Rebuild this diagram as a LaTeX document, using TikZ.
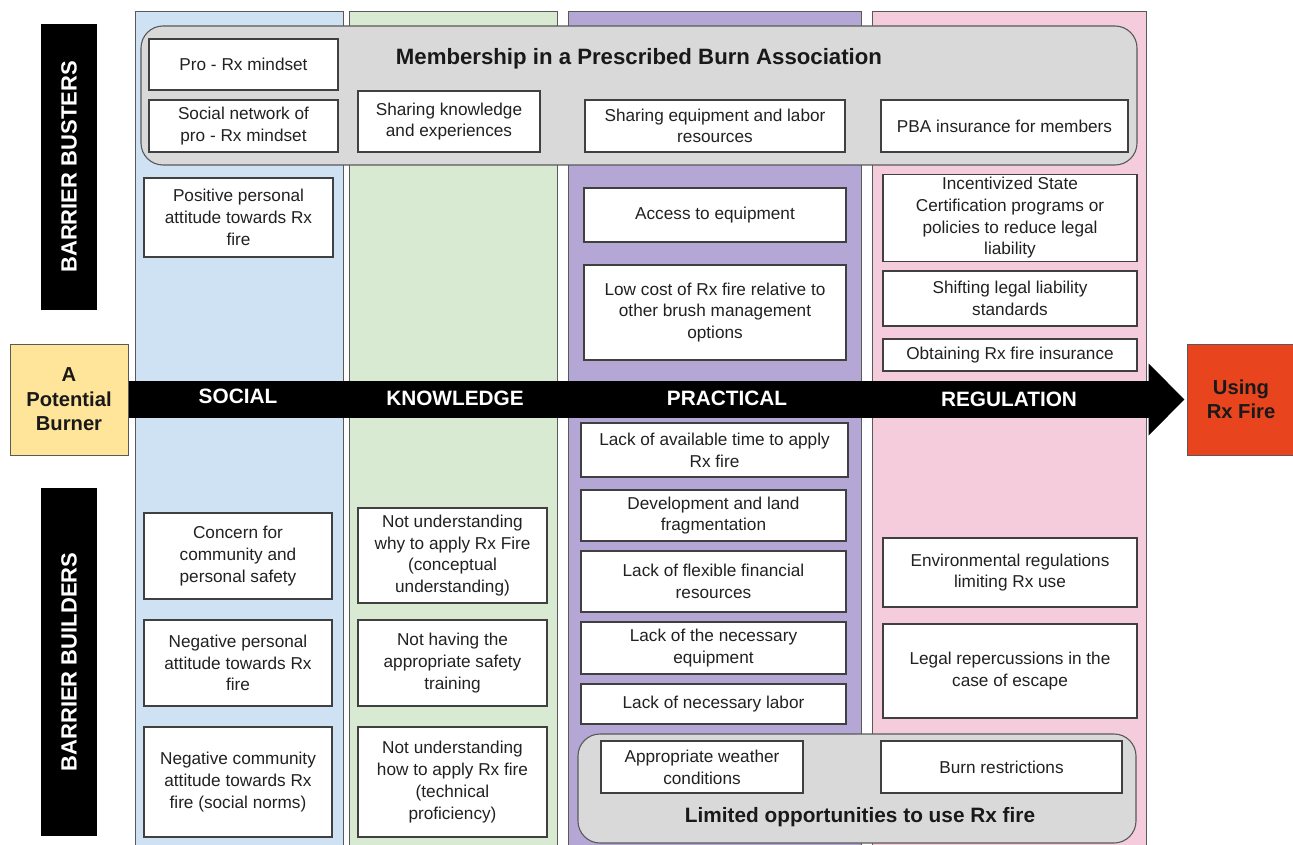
\documentclass[tikz,border=0pt]{standalone}
\usepackage{fontspec}
\setmainfont{Liberation Sans}
\usetikzlibrary{arrows.meta}
\definecolor{socialc}{HTML}{CFE2F3}
\definecolor{knowc}{HTML}{D9EAD3}
\definecolor{pracc}{HTML}{B4A7D6}
\definecolor{regc}{HTML}{F4CCDC}
\definecolor{grayc}{HTML}{D9D9D9}
\definecolor{edgec}{HTML}{595959}
\definecolor{boxedge}{HTML}{404040}
\definecolor{burnerc}{HTML}{FFE599}
\definecolor{usingc}{HTML}{E8451F}
\tikzset{
  panel/.style={draw=edgec, line width=1pt},
  wbox/.style={draw=boxedge, fill=white, line width=1.1pt, inner sep=3pt, align=center,
    font=\fontsize{17.2}{21.7}\selectfont, text=black!87},
  groupbox/.style={draw=edgec, fill=grayc, line width=1.1pt, rounded corners=22pt},
  grouptitle/.style={text=black!90},
  sidebar/.style={fill=black, draw=none},
  sidetext/.style={text=white, font=\fontsize{22}{26}\selectfont\bfseries, rotate=90},
  coltext/.style={text=white, font=\fontsize{20.8}{24}\selectfont\bfseries},
  endbox/.style={draw=edgec, line width=1pt, align=center, text=black!90,
    font=\fontsize{20.2}{24.5}\selectfont\bfseries},
  bigarrow/.style={line width=37pt, -{Triangle[width=70pt,length=36pt]}}
}
\newcommand\bx[6]{%
  \pgfmathsetmacro\bw{#4-#2}\pgfmathsetmacro\bh{#5-#3}%
  \node[wbox,minimum width=\bw pt,minimum height=\bh pt] (#1) at ({(#2+#4)/2},{(#3+#5)/2}) {#6};}
\begin{document}
\begin{tikzpicture}[x=1pt,y=-1pt]
\useasboundingbox (0,0) rectangle (1293,845);
% panels
\draw[panel, fill=socialc] (135,12) rectangle (343,850);
\draw[panel, fill=knowc] (349,12) rectangle (557,850);
\draw[panel, fill=pracc] (568,12) rectangle (861,850);
\draw[panel, fill=regc] (872,12) rectangle (1146,850);
% side bars
\path[sidebar] (41,24) rectangle (97,310);
\node[sidetext] (busters) at (69,167) {BARRIER BUSTERS};
\path[sidebar] (41,488) rectangle (97,836);
\node[sidetext] (builders) at (69,662) {BARRIER BUILDERS};
% end boxes
\node[endbox, fill=burnerc, minimum width=118pt, minimum height=111pt] (burner) at (69,399.5) {A\\Potential\\Burner};
\node[endbox, fill=usingc, minimum width=108pt, minimum height=111pt] (using) at (1241,399.5) {Using\\Rx Fire};
% arrow
\draw[bigarrow] (burner.east) -- ([xshift=-2pt]using.west);
\node[coltext] (social) at (238,396) {SOCIAL};
\node[coltext] (knowledge) at (455,398) {KNOWLEDGE};
\node[coltext] (practical) at (727,398) {PRACTICAL};
\node[coltext] (regulation) at (1009,399) {REGULATION};
% membership group
\draw[groupbox] (141,26) rectangle (1137,165);
\node[grouptitle, font=\fontsize{22.2}{26}\selectfont\bfseries] (memb) at (639,59) {Membership in a Prescribed Burn Association};
\bx{pro}{149}{39}{338}{90}{Pro - Rx mindset}
\bx{socnet}{149}{100}{338}{152}{Social network of\\pro - Rx mindset}
\bx{shknow}{358}{91}{540}{152}{Sharing knowledge\\and experiences}
\bx{shequip}{585}{100}{845}{152}{Sharing equipment and labor\\resources}
\bx{pbains}{881}{100}{1128}{152}{PBA insurance for members}
% social
\bx{pospers}{144}{178}{333}{257}{Positive personal\\attitude towards Rx\\fire}
\bx{concern}{144}{513}{332}{599}{Concern for\\community and\\personal safety}
\bx{negpers}{144}{620}{332}{706}{Negative personal\\attitude towards Rx\\fire}
\bx{negcomm}{144}{727}{332}{837}{Negative community\\attitude towards Rx\\fire (social norms)}
% knowledge
\bx{notwhy}{358}{508}{547}{603}{Not understanding\\why to apply Rx Fire\\(conceptual\\understanding)}
\bx{notsafety}{358}{620}{547}{706}{Not having the\\appropriate safety\\training}
\bx{nothow}{358}{727}{547}{837}{Not understanding\\how to apply Rx fire\\(technical\\proficiency)}
% practical
\bx{access}{584}{188}{846}{242}{Access to equipment}
\bx{lowcost}{584}{265}{846}{360}{Low cost of Rx fire relative to\\other brush management\\options}
\bx{lacktime}{581}{423}{848}{477}{Lack of available time to apply\\Rx fire}
\bx{devel}{581}{490}{846}{541}{Development and land\\fragmentation}
\bx{finance}{581}{551}{846}{612}{Lack of flexible financial\\resources}
\bx{lackequip}{581}{622}{846}{674}{Lack of the necessary\\equipment}
\bx{labor}{581}{684}{846}{724}{Lack of necessary labor}
% regulation
\bx{incent}{883}{175}{1137}{261}{Incentivized State\\Certification programs or\\policies to reduce legal\\liability}
\bx{shifting}{883}{271}{1137}{326}{Shifting legal liability\\standards}
\bx{obtain}{883}{339}{1137}{371}{Obtaining Rx fire insurance}
\bx{envreg}{883}{538}{1137}{607}{Environmental regulations\\limiting Rx use}
\bx{legal}{883}{624}{1137}{718}{Legal repercussions in the\\case of escape}
% limited opportunities group
\draw[groupbox] (578,734) rectangle (1136,843);
\node[grouptitle, font=\fontsize{20.8}{24}\selectfont\bfseries] (limited) at (860,817) {Limited opportunities to use Rx fire};
\bx{weather}{601}{741}{803}{793}{Appropriate weather\\conditions}
\bx{burnres}{881}{741}{1122}{793}{Burn restrictions}
\end{tikzpicture}
\end{document}
